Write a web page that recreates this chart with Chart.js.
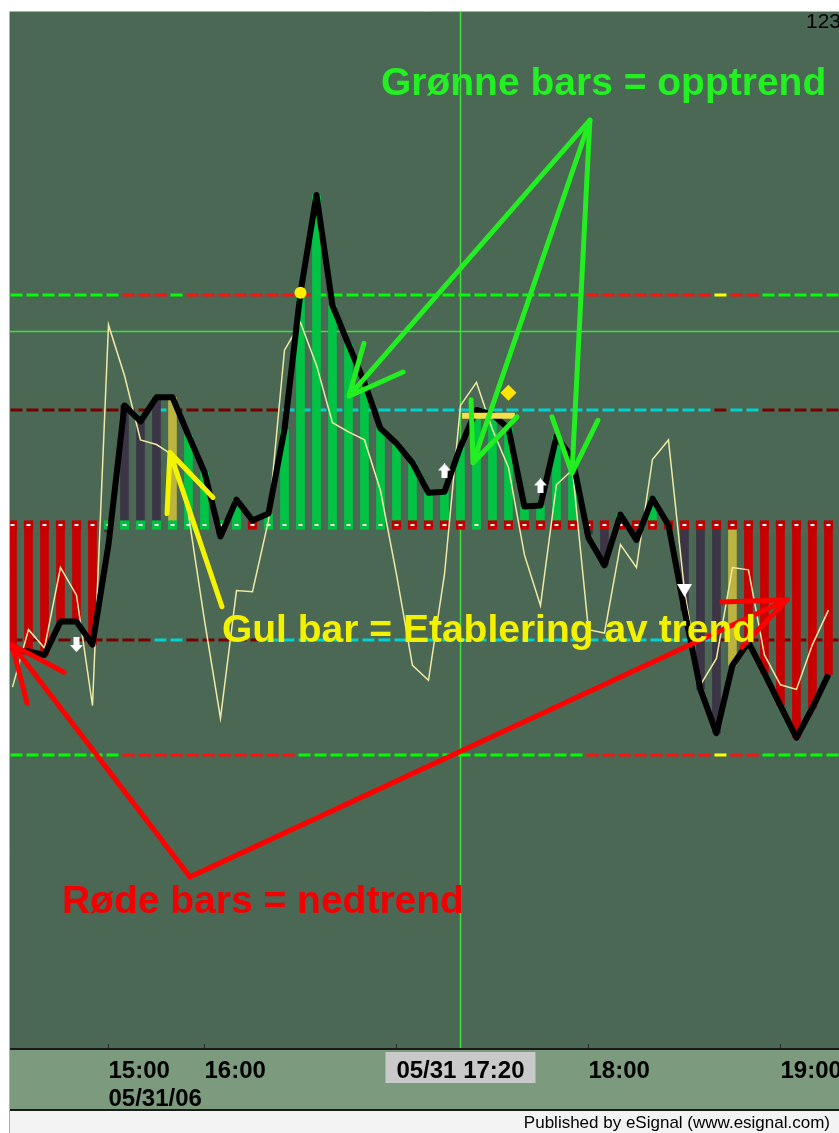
<!DOCTYPE html>
<html>
<head>
<meta charset="utf-8">
<script src="https://cdn.jsdelivr.net/npm/chart.js@4.4.0/dist/chart.umd.min.js"></script>
<style>
html,body{margin:0;padding:0;background:#ffffff;}
canvas{display:block;}
</style>
</head>
<body>
<canvas id="c" width="839" height="1133"></canvas>
<script>
// ---------- DATA ----------
// 5-minute bars, slot index 0..51
const cciSlow = [-109,-110,-113,-84,-84,-104,-17,104,90,111,
                 111,78,46,-10,22,4,10,83,202,287,
                 191,157,124,84,71,54,28,29,68,100,
                 96,84,16,17,77,58,-11,-35,9,-13,
                 23,0,-74,-143,-181,-122,-102,-129,-157,-185,
                 -159,-130];
const cciFast = [-141,-91,-107,-37,-61,-157,174,130,74,70,
                 61,9,-83,-168,-57,-58,4,152,176,139,
                 89,81,74,30,-43,-122,-135,-43,104,124,
                 83,50,-26,-70,35,48,-91,-94,-17,-37,
                 57,74,-57,-139,-116,-37,-39,-113,-139,-143,
                 -104,-74];
const histValues = [-109,-110,-113,-84,-84,-104,-6,104,90,111,
                    111,78,46,-8,22,4,10,83,202,287,
                    191,157,124,84,71,54,28,29,68,100,
                    96,84,16,17,77,58,-8,-35,9,-10,
                    23,0,-74,-143,-181,-122,-102,-129,-157,-185,
                    -159,-130];
// bar colour runs: R red (down), G green (up), D dark (no trend), Y yellow (trend start)
const histColorRuns = [['R',6],['D',4],['Y',1],['G',2],['D',1],['G',22],['D',2],['G',1],['D',1],['G',1],['D',4],['Y',1],['R',6]];
const zeroMarkerRuns = [['R',6],['G',9],['R',1],['G',8],['R',5],['G',1],['R',22]];
const levelValues = [200, 100, -100, -200];
const level200Runs  = [['G',7],['R',3],['G',1],['R',8],['G',17],['R',8],['Y',1],['R',2],['G',5]];
const level100Runs  = [['D',9],['C',1],['D',7],['C',27],['D',1],['C',2],['D',5]];
const levelM100Runs = [['D',9],['C',2],['D',5],['C',28],['D',8]];
const levelM200Runs = [['G',7],['R',11],['G',18],['R',8],['Y',1],['R',2],['G',5]];

const upSignalSlots = [27, 33];      const upSignalValues = [47, 34];
const downSignalSlots = [4];         const downSignalValues = [-104];
const sellSignalSlots = [42];        const sellSignalValues = [-57];
const dotSlot = 18;   const dotValue = 202;
const diamondSlot = 31; const diamondValue = 115;
const yellowSegSlots = [28.1, 31.4]; const yellowSegValue = 95;

const tickSlots = [6, 12, 24, 36, 48];
const tickLabels = [['15:00','05/31/06'], ['16:00'], [''], ['18:00'], ['19:00']];
const crossSlot = 28; const crossValue = 169; const crossLabel = '05/31 17:20';

// annotation arrows: [slot, value] polylines (tail, tip, wing, tip, wing)
const greenArrows = [
  [[36.09,352],[21.03,112],[21.97,158],[21.03,112],[24.41,133]],
  [[36.09,352],[28.78,54],[28.66,109],[28.78,54],[31.53,94]],
  [[36.09,352],[34.97,45],[33.72,94],[34.97,45],[36.59,91]]
];
const yellowArrows = [
  [[13.09,-71],[9.84,63],[9.66,10],[9.84,63],[12.53,24]]
];
const redArrows = [
  [[11.09,-306],[-0.03,-104],[0.91,-155],[-0.03,-104],[3.22,-128]],
  [[11.09,-306],[48.41,-65],[44.34,-67],[48.41,-65],[45.59,-106]]
];
const notes = [
  {text:'Grønne bars = opptrend', slot:23.03, value:374, color:'#22f022'},
  {text:'Gul bar = Etablering av trend', slot:13.09, value:-102, color:'#f2f200'},
  {text:'Røde bars = nedtrend', slot:3.09, value:-337, color:'#f00000'}
];

// ---------- HELPERS ----------
const slots = cciSlow.map((_, i) => i);
function expand(runs){ const out=[]; runs.forEach(([c,n])=>{ for(let k=0;k<n;k++) out.push(c); }); return out; }
const barColor = {R:'#c80000', G:'#00c444', D:'#3b3545', Y:'#bcb43e'};
const markColor = {R:'#c00000', G:'#00c040'};
const levelColor = {G:'#00ff00', R:'#ff1010', Y:'#ffff00', D:'#7a0000', C:'#00d2d2'};
const FONT = '"Liberation Sans", Arial, sans-serif';

function makeIcon(w,h,pts){
  const c=document.createElement('canvas'); c.width=w; c.height=h;
  const g=c.getContext('2d'); g.fillStyle='#ffffff'; g.beginPath();
  pts.forEach((p,k)=> k? g.lineTo(p[0],p[1]) : g.moveTo(p[0],p[1])); g.closePath(); g.fill();
  return c;
}
const upIcon = makeIcon(13,15,[[6.5,0],[13,7],[9.5,7],[9.5,15],[3.5,15],[3.5,7],[0,7]]);
const downIcon = makeIcon(13,15,[[6.5,15],[13,8],[9.5,8],[9.5,0],[3.5,0],[3.5,8],[0,8]]);
const triIcon = makeIcon(15,13,[[0,0],[15,0],[7.5,13]]);

function levelDataset(level, runs){
  const codes = expand(runs);
  return {type:'scatter', data: slots.map(i=>({x:i+0.25, y:level})),
    pointStyle:'line', pointRadius:6, pointBorderWidth:3,
    pointBorderColor: codes.map(c=>levelColor[c]), pointBackgroundColor:'rgba(0,0,0,0)', order:30};
}
function arrowDataset(pts, color){
  return {type:'line', data: pts.map(p=>({x:p[0], y:p[1]})), borderColor:color, borderWidth:5,
    pointRadius:0, tension:0, fill:false, borderJoinStyle:'round', borderCapStyle:'round', order:2};
}
function iconDataset(sl, vals, icon){
  return {type:'scatter', data: sl.map((s,k)=>({x:s, y:vals[k]})), pointStyle:icon, pointRadius:7, order:6};
}

const datasets = [
  levelDataset(levelValues[0], level200Runs),
  levelDataset(levelValues[1], level100Runs),
  levelDataset(levelValues[2], levelM100Runs),
  levelDataset(levelValues[3], levelM200Runs),
  {type:'bar', data: slots.map(i=>({x:i, y:histValues[i]})),
    backgroundColor: expand(histColorRuns).map(c=>barColor[c]), barThickness:8, order:20},
  {type:'scatter', data: slots.map(i=>({x:i, y:0})), pointStyle:'rect', pointRadius:6.5,
    pointBorderWidth:0, pointBackgroundColor: expand(zeroMarkerRuns).map(c=>markColor[c]), order:19},
  {type:'scatter', data: slots.map(i=>({x:i, y:0})), pointStyle:'line', pointRadius:2,
    pointBorderWidth:2, pointBorderColor:'#ffffff', order:18},
  {type:'line', data: slots.map(i=>({x:i, y:cciFast[i]})), borderColor:'#efe9a6', borderWidth:1.5,
    pointRadius:0, tension:0, fill:false, order:17},
  {type:'line', data: slots.map(i=>({x:i, y:cciSlow[i]})), borderColor:'#000000', borderWidth:6,
    pointRadius:0, tension:0, fill:false, borderJoinStyle:'round', order:16},
  iconDataset(upSignalSlots, upSignalValues, upIcon),
  iconDataset(downSignalSlots, downSignalValues, downIcon),
  iconDataset(sellSignalSlots, sellSignalValues, triIcon),
  {type:'scatter', data:[{x:dotSlot, y:dotValue}], pointStyle:'circle', pointRadius:6,
    pointBackgroundColor:'#ffee00', pointBorderWidth:0, order:5},
  {type:'scatter', data:[{x:diamondSlot, y:diamondValue}], pointStyle:'rectRot', pointRadius:8,
    pointBackgroundColor:'#ffe400', pointBorderWidth:0, order:5},
  {type:'line', data: yellowSegSlots.map(s=>({x:s, y:yellowSegValue})), borderColor:'#f2e04a', borderWidth:6,
    pointRadius:0, order:5}
];
greenArrows.forEach(a=>datasets.push(arrowDataset(a,'#22ee22')));
yellowArrows.forEach(a=>datasets.push(arrowDataset(a,'#f4f400')));
redArrows.forEach(a=>datasets.push(arrowDataset(a,'#ff0000')));

// ---------- PLUGIN ----------
const frame = {
  id:'frame',
  beforeDraw(chart){
    const ctx=chart.ctx, a=chart.chartArea, W=chart.width, H=chart.height;
    ctx.save();
    ctx.fillStyle='#ffffff'; ctx.fillRect(0,0,W,H);
    ctx.fillStyle='#4a6853'; ctx.fillRect(a.left,a.top,a.right-a.left,a.bottom-a.top);
    ctx.fillStyle='#7c9a7e'; ctx.fillRect(a.left,a.bottom,a.right-a.left,1110-a.bottom);
    ctx.fillStyle='#f3f3f3'; ctx.fillRect(a.left,1111,a.right-a.left,H-1111);
    ctx.strokeStyle='#b0b0b0'; ctx.lineWidth=1;
    ctx.beginPath(); ctx.moveTo(a.left-0.5,a.top-0.5); ctx.lineTo(a.right,a.top-0.5);
    ctx.moveTo(a.left-0.5,a.top-0.5); ctx.lineTo(a.left-0.5,H); ctx.stroke();
    ctx.strokeStyle='#1a1a1a'; ctx.lineWidth=2;
    ctx.beginPath(); ctx.moveTo(a.left,a.bottom+1); ctx.lineTo(a.right,a.bottom+1);
    ctx.moveTo(a.left,1110); ctx.lineTo(a.right,1110); ctx.stroke();
    ctx.restore();
  },
  beforeDatasetsDraw(chart){
    const ctx=chart.ctx, a=chart.chartArea, xs=chart.scales.x, ys=chart.scales.y;
    const cx=Math.round(xs.getPixelForValue(crossSlot))+0.5, cy=Math.round(ys.getPixelForValue(crossValue))+0.5;
    ctx.save(); ctx.strokeStyle='#3fe03f'; ctx.lineWidth=1.5;
    ctx.beginPath(); ctx.moveTo(cx,a.top); ctx.lineTo(cx,a.bottom);
    ctx.moveTo(a.left,cy); ctx.lineTo(a.right,cy); ctx.stroke(); ctx.restore();
  },
  afterDatasetsDraw(chart){
    const ctx=chart.ctx, xs=chart.scales.x, ys=chart.scales.y;
    ctx.save(); ctx.font='bold 39px '+FONT; ctx.textAlign='left'; ctx.textBaseline='alphabetic';
    notes.forEach(n=>{ ctx.fillStyle=n.color; ctx.fillText(n.text, xs.getPixelForValue(n.slot), ys.getPixelForValue(n.value)); });
    ctx.restore();
  },
  afterDraw(chart){
    const ctx=chart.ctx, a=chart.chartArea, xs=chart.scales.x;
    ctx.save();
    ctx.strokeStyle='#2a2a2a'; ctx.lineWidth=1;
    tickSlots.forEach(s=>{ const x=Math.round(xs.getPixelForValue(s))+0.5; ctx.beginPath(); ctx.moveTo(x,a.bottom-4); ctx.lineTo(x,a.bottom); ctx.stroke(); });
    ctx.font='bold 24px '+FONT; ctx.fillStyle='#000'; ctx.textAlign='left'; ctx.textBaseline='alphabetic';
    tickSlots.forEach((s,k)=>{ const x=xs.getPixelForValue(s);
      tickLabels[k].forEach((t,j)=>ctx.fillText(t, x, a.bottom+30+j*28)); });
    const cx=xs.getPixelForValue(crossSlot);
    ctx.fillStyle='#c9c9c9'; ctx.fillRect(cx-75, a.bottom+4, 150, 31);
    ctx.fillStyle='#000'; ctx.textAlign='center'; ctx.fillText(crossLabel, cx, a.bottom+30);
    ctx.font='17px '+FONT; ctx.textAlign='right'; ctx.fillText('Published by eSignal (www.esignal.com)', 830, 1128);
    ctx.font='21px '+FONT; ctx.textAlign='left'; ctx.fillText('1236', 806, 28);
    ctx.restore();
  }
};

new Chart(document.getElementById('c'), {
  type:'bar',
  data:{datasets},
  options:{
    responsive:false, animation:false, events:[], devicePixelRatio:1,
    layout:{autoPadding:false, padding:{left:10, top:12, right:0, bottom:85}},
    plugins:{legend:{display:false}, tooltip:{enabled:false}},
    scales:{
      x:{type:'linear', min:-0.156, max:51.66, offset:false, display:false},
      y:{type:'linear', min:-454.8, max:446.1, display:false}
    }
  },
  plugins:[frame]
});
</script>
</body>
</html>
